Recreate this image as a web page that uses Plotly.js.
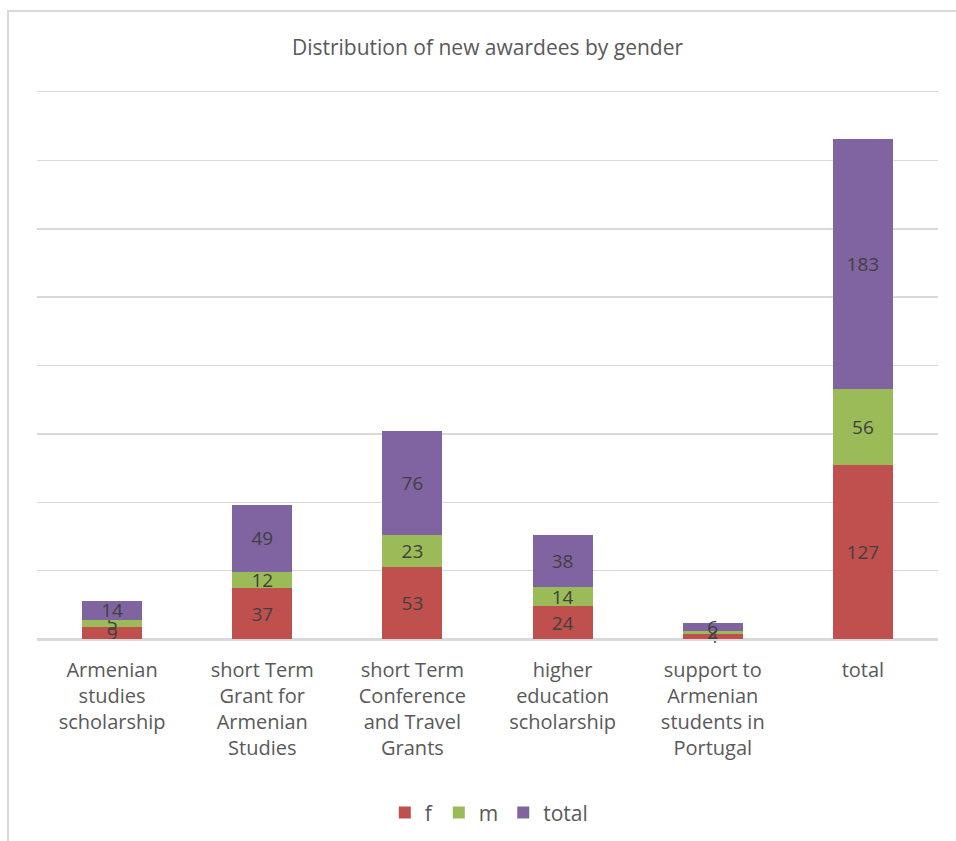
<!DOCTYPE html>
<html>
<head>
<meta charset="utf-8">
<script src="https://cdn.plot.ly/plotly-3.0.1.min.js"></script>
<style>
  html, body { margin: 0; padding: 0; background: #fff; overflow: hidden; }
  #chart { width: 956px; height: 841px; }
  #frame { position: absolute; left: 7px; top: 10px; width: 1000px; height: 1000px;
           border: 2px solid #d9d9d9; pointer-events: none; box-sizing: border-box; }
</style>
</head>
<body>
<div id="frame"></div>
<div id="chart"></div>
<script>
const categories = [
  "Armenian<br>studies<br>scholarship",
  "short Term<br>Grant for<br>Armenian<br>Studies",
  "short Term<br>Conference<br>and Travel<br>Grants",
  "higher<br>education<br>scholarship",
  "support to<br>Armenian<br>students in<br>Portugal",
  "total"
];
const fValues = [9, 37, 53, 24, 4, 127];
const mValues = [5, 12, 23, 14, 2, 56];
const totalValues = [14, 49, 76, 38, 6, 183];
const seriesNames = ["f", "m", "total"];
const seriesColors = ["#c0504d", "#9bbb59", "#8064a2"];

const labelFont = { family: "Open Sans, sans-serif", size: 19, color: "#404040" };

function makeTrace(vals, i) {
  return {
    type: "bar",
    x: categories,
    y: vals,
    name: seriesNames[i],
    marker: { color: seriesColors[i] },
    text: vals.map(String),
    textposition: "inside",
    insidetextanchor: "middle",
    textangle: 0,
    textfont: labelFont,
    constraintext: "none",
    cliponaxis: false,
    hoverinfo: "x+y+name"
  };
}

const data = [makeTrace(fValues, 0), makeTrace(mValues, 1), makeTrace(totalValues, 2)];

const layout = {
  width: 956,
  height: 841,
  barmode: "stack",
  bargap: 0.6,
  paper_bgcolor: "rgba(0,0,0,0)",
  plot_bgcolor: "rgba(0,0,0,0)",
  margin: { l: 37, r: 18, t: 92, b: 202, autoexpand: false },
  uniformtext: { mode: "show", minsize: 19 },
  title: {
    text: "Distribution of new awardees by gender",
    font: { family: "Open Sans, sans-serif", size: 21, color: "#595959" },
    x: 0.5, xanchor: "center", xref: "paper",
    y: 1 - 48 / 841, yanchor: "middle", yref: "container"
  },
  xaxis: {
    type: "category",
    tickfont: { family: "Open Sans, sans-serif", size: 20, color: "#595959" },
    showline: true,
    mirror: true,
    linecolor: "#d9d9d9",
    linewidth: 1.5,
    ticks: "",
    ticklabelstandoff: 12,
    showgrid: false,
    automargin: false
  },
  yaxis: {
    range: [0, 400],
    dtick: 50,
    showticklabels: false,
    showgrid: true,
    gridcolor: "#d9d9d9",
    gridwidth: 1.5,
    zeroline: true,
    zerolinecolor: "#d9d9d9",
    zerolinewidth: 1.5,
    ticks: "",
    fixedrange: true
  },
  showlegend: true,
  legend: {
    orientation: "h",
    x: 0.502, xanchor: "center",
    y: -0.318, yanchor: "middle",
    font: { family: "Open Sans, sans-serif", size: 21, color: "#595959" },
    itemwidth: 30,
    traceorder: "normal"
  }
};

Plotly.newPlot("chart", data, layout, { displayModeBar: false, staticPlot: true });
</script>
</body>
</html>
